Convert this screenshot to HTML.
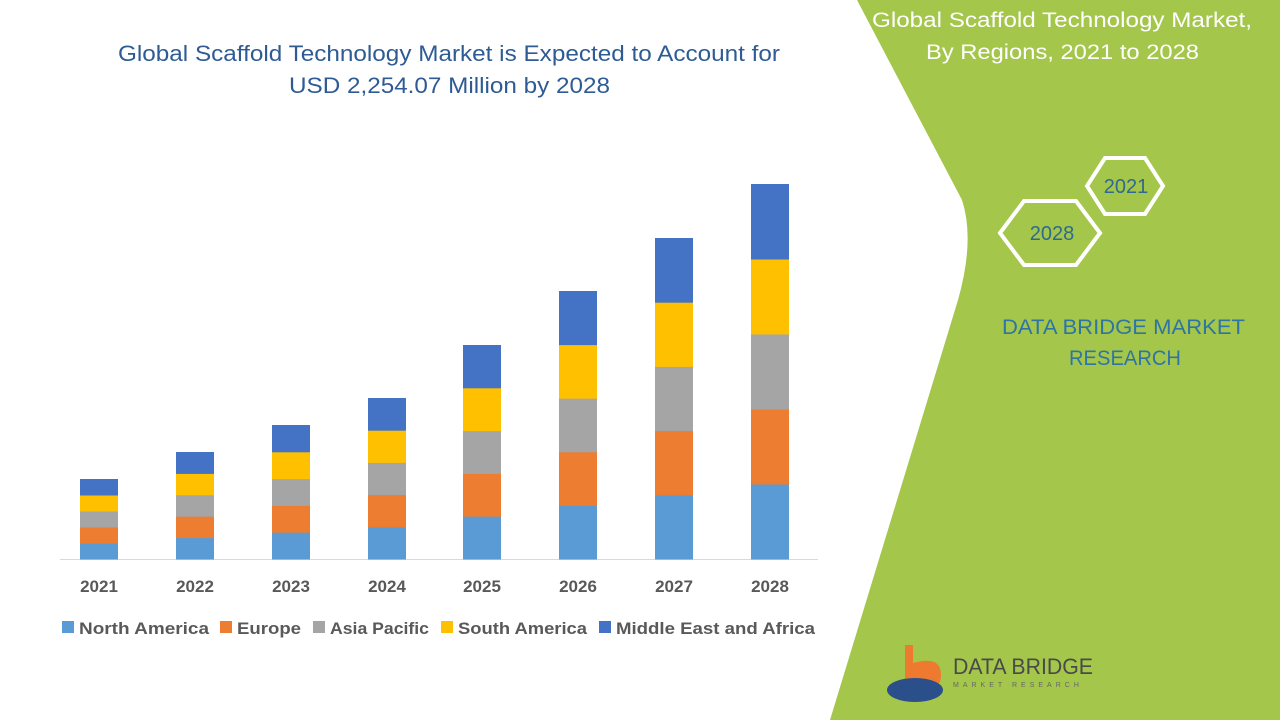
<!DOCTYPE html>
<html><head><meta charset="utf-8"><style>
body{margin:0;width:1280px;height:720px;overflow:hidden;background:#fff;font-family:"Liberation Sans",sans-serif;position:relative}
svg{position:absolute;left:0;top:0}
</style></head><body>
<svg width="1280" height="720" viewBox="0 0 1280 720">
<path d="M857,0 L1280,0 L1280,720 L830,720 L958,300 Q975,240 962,200 Z" fill="#a4c64a"/>
<g font-family="Liberation Sans, sans-serif">
<text x="118" y="61" font-size="22" fill="#2e5b94" textLength="662" lengthAdjust="spacingAndGlyphs">Global Scaffold Technology Market is Expected to Account for</text>
<text x="289" y="93" font-size="22" fill="#2e5b94" textLength="321" lengthAdjust="spacingAndGlyphs">USD 2,254.07 Million by 2028</text>
<text x="872" y="27" font-size="21" fill="#fff" textLength="380" lengthAdjust="spacingAndGlyphs">Global Scaffold Technology Market,</text>
<text x="926" y="59" font-size="21" fill="#fff" textLength="273" lengthAdjust="spacingAndGlyphs">By Regions, 2021 to 2028</text>
<polygon points="1000,233 1024,201 1076,201 1100,233 1076,265 1024,265" fill="none" stroke="#fff" stroke-width="4"/>
<polygon points="1087,186 1105,158 1145,158 1163,186 1145,214 1105,214" fill="none" stroke="#fff" stroke-width="4"/>
<text x="1052" y="240" font-size="20" fill="#2e6a90" text-anchor="middle">2028</text>
<text x="1126" y="193" font-size="20" fill="#2e6a90" text-anchor="middle">2021</text>
<text x="1002" y="334" font-size="21" fill="#2e75a5" textLength="243" lengthAdjust="spacingAndGlyphs">DATA BRIDGE MARKET</text>
<text x="1069" y="365" font-size="21" fill="#2e75a5" textLength="112" lengthAdjust="spacingAndGlyphs">RESEARCH</text>
<path d="M905,645 h8 v18 q28,-8 28,12 q0,16 -20,18 h-16 z" fill="#ee7a2f"/>
<ellipse cx="915" cy="690" rx="28" ry="12" fill="#2a4f8a"/>
<text x="953" y="674" font-size="22" fill="#4a4a4a" textLength="140" lengthAdjust="spacingAndGlyphs">DATA BRIDGE</text>
<text x="953" y="687" font-size="7" fill="#666" letter-spacing="4">MARKET RESEARCH</text>
</g>
<line x1="60" y1="559.5" x2="818" y2="559.5" stroke="#d9d9d9"/>
<g id="bars"></g>
<g font-family="Liberation Sans, sans-serif" font-size="17" font-weight="bold" fill="#595959" text-anchor="middle">
<text x="99" y="592">2021</text><text x="195" y="592">2022</text><text x="291" y="592">2023</text><text x="387" y="592">2024</text><text x="482" y="592">2025</text><text x="578" y="592">2026</text><text x="674" y="592">2027</text><text x="770" y="592">2028</text>
</g>
<g font-family="Liberation Sans, sans-serif" font-size="17" font-weight="bold" fill="#595959">
<rect x="62" y="621" width="12" height="12" fill="#5b9bd5"/><text x="79" y="634" textLength="130" lengthAdjust="spacingAndGlyphs">North America</text>
<rect x="220" y="621" width="12" height="12" fill="#ed7d31"/><text x="237" y="634" textLength="64" lengthAdjust="spacingAndGlyphs">Europe</text>
<rect x="313" y="621" width="12" height="12" fill="#a5a5a5"/><text x="330" y="634" textLength="99" lengthAdjust="spacingAndGlyphs">Asia Pacific</text>
<rect x="441" y="621" width="12" height="12" fill="#ffc000"/><text x="458" y="634" textLength="129" lengthAdjust="spacingAndGlyphs">South America</text>
<rect x="599" y="621" width="12" height="12" fill="#4472c4"/><text x="616" y="634" textLength="199" lengthAdjust="spacingAndGlyphs">Middle East and Africa</text>
</g>
</svg>
<script>
var xs=[80,176,272,368,463,559,655,751],tops=[479,452,425,398,345,291,238,184],cols=["#5b9bd5","#ed7d31","#a5a5a5","#ffc000","#4472c4"];
var g=document.getElementById("bars"),s="";
for(var i=0;i<8;i++){var h=(559-tops[i])/5;for(var k=0;k<5;k++){var y=559-h*(k+1);s+='<rect x="'+xs[i]+'" y="'+y+'" width="38" height="'+(h+0.5)+'" fill="'+cols[k]+'"/>';}}
g.innerHTML=s;
</script>
</body></html>
